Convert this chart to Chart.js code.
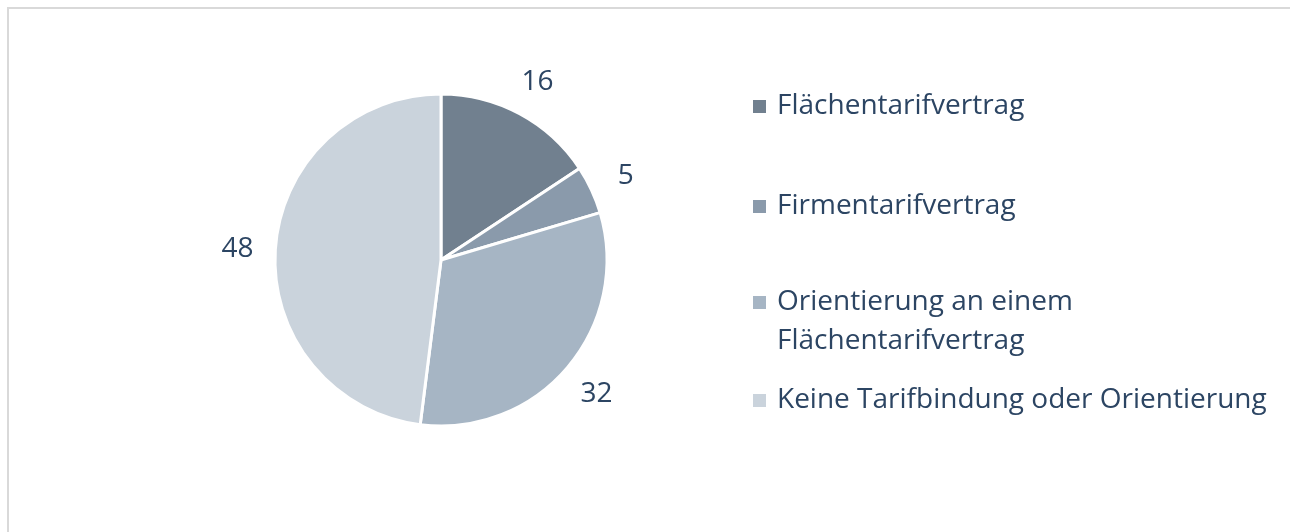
<!DOCTYPE html>
<html>
<head>
<meta charset="utf-8">
<script src="https://cdn.jsdelivr.net/npm/chart.js@4.4.0/dist/chart.umd.min.js"></script>
<style>
  html, body { margin: 0; padding: 0; background: #fff; }
  #wrap { width: 1290px; height: 532px; position: relative; }
</style>
</head>
<body>
<div id="wrap"><canvas id="tarifChart" width="1290" height="532"></canvas></div>
<script>
const categories = [
    ['Flächentarifvertrag'],
    ['Firmentarifvertrag'],
    ['Orientierung an einem', 'Flächentarifvertrag'],
    ['Keine Tarifbindung oder Orientierung']
];
// Anteile in Prozent (aus den Segmentwinkeln geschätzt, Beschriftung gerundet)
const shares = [15.7, 4.7, 31.6, 48.0];
const sliceColors = ['#71808f', '#8a9aab', '#a6b5c4', '#cad3dc'];

const textColor = '#2c4563';
const fontFamily = '"Open Sans", "Noto Sans", sans-serif';
const fontSize = 28;

// Rahmen + Legende rechts
const frameAndLegend = {
    id: 'frameAndLegend',
    beforeDraw(chart) {
        const ctx = chart.ctx;
        ctx.save();
        ctx.strokeStyle = '#d9d9d9';
        ctx.lineWidth = 2;
        ctx.strokeRect(8, 8, 1400, 600);
        ctx.restore();
    },
    afterDraw(chart) {
        const ctx = chart.ctx;
        const rowY = [106, 206, 302, 400];
        const lineGap = 39;
        ctx.save();
        ctx.font = fontSize + 'px ' + fontFamily;
        ctx.textBaseline = 'middle';
        ctx.textAlign = 'left';
        categories.forEach((lines, i) => {
            ctx.fillStyle = sliceColors[i];
            ctx.fillRect(753, rowY[i] - 6, 13, 13);
            ctx.fillStyle = textColor;
            lines.forEach((line, j) => {
                ctx.fillText(line, 777, rowY[i] + j * lineGap);
            });
        });
        ctx.restore();
    }
};

// Werte außerhalb der Segmente
const outerLabels = {
    id: 'outerLabels',
    afterDatasetsDraw(chart) {
        const ctx = chart.ctx;
        const meta = chart.getDatasetMeta(0);
        ctx.save();
        ctx.font = fontSize + 'px ' + fontFamily;
        ctx.fillStyle = textColor;
        ctx.textAlign = 'center';
        ctx.textBaseline = 'middle';
        meta.data.forEach((arc, i) => {
            const mid = (arc.startAngle + arc.endAngle) / 2;
            const d = arc.outerRadius + 38;
            ctx.fillText(String(Math.round(shares[i])), arc.x + Math.cos(mid) * d, arc.y + Math.sin(mid) * d + 2);
        });
        ctx.restore();
    }
};

const chartConfig = {
    type: 'pie',
    data: {
        labels: categories.map(l => l.join(' ')),
        datasets: [{
            data: shares,
            backgroundColor: sliceColors,
            borderColor: '#ffffff',
            borderWidth: 3,
            radius: 166
        }]
    },
    options: {
        responsive: false,
        animation: false,
        layout: {
            padding: { left: 241, right: 649, top: 60, bottom: 72 }
        },
        plugins: {
            legend: { display: false },
            tooltip: { enabled: false }
        }
    },
    plugins: [frameAndLegend, outerLabels]
};

new Chart(document.getElementById('tarifChart').getContext('2d'), chartConfig);
</script>
</body>
</html>
